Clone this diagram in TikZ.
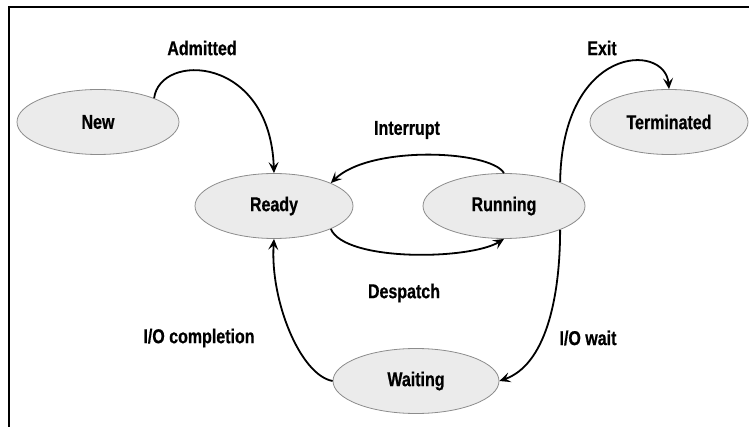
\documentclass[tikz,border=0pt]{standalone}
\usepackage{fontspec}
\setmainfont{Liberation Sans}[FakeStretch=0.8,FakeBold=0.6]
\usetikzlibrary{shapes.geometric,arrows.meta}
\begin{document}
\begin{tikzpicture}[x=1pt,y=-1pt,
  state/.style={ellipse,draw=black!45,line width=0.8pt,fill=black!8,
    minimum width=162pt,minimum height=65pt,inner sep=0pt,
    font=\fontsize{20}{22}\selectfont\bfseries},
  lbl/.style={font=\fontsize{20}{22}\selectfont\bfseries,inner sep=0pt},
  conn/.style={line width=1.8pt,-{Stealth[length=11pt,width=10pt,inset=4.5pt]}}]
\useasboundingbox (0,0) rectangle (749,427);
\draw[line width=1.4pt] (9,427) -- (9,7) -- (749,7);
\node[state] (new) at (98,122) {New};
\node[state,minimum width=158pt] (ready) at (274,206) {Ready};
\node[state] (running) at (504,206) {Running};
\node[state,minimum width=158pt] (term) at (669,122) {Terminated};
\node[state,minimum width=166pt] (wait) at (416,381) {Waiting};
\node[lbl] (ladm) at (202,48) {Admitted};
\node[lbl] (lint) at (407,130) {Interrupt};
\node[lbl] (lexit) at (602,48) {Exit};
\node[lbl] (ldes) at (404,293) {Despatch};
\node[lbl] (lioc) at (199,338) {I/O completion};
\node[lbl] (liow) at (588,338) {I/O wait};
\draw[conn] (new.23) .. controls (160,52) and (270,55) .. (ready.north);
\draw[conn] (running.north) .. controls (490,150) and (370,145) .. (ready.22);
\draw[conn] (ready.-22) .. controls (345,262) and (470,260) .. (running.south);
\draw[conn] (running.23) .. controls (562,45) and (665,42) .. (term.north);
\draw[conn] (running.-23) .. controls (560,300) and (545,365) .. (wait.east);
\draw[conn] (wait.west) .. controls (300,375) and (270,300) .. (ready.south);
\end{tikzpicture}
\end{document}
